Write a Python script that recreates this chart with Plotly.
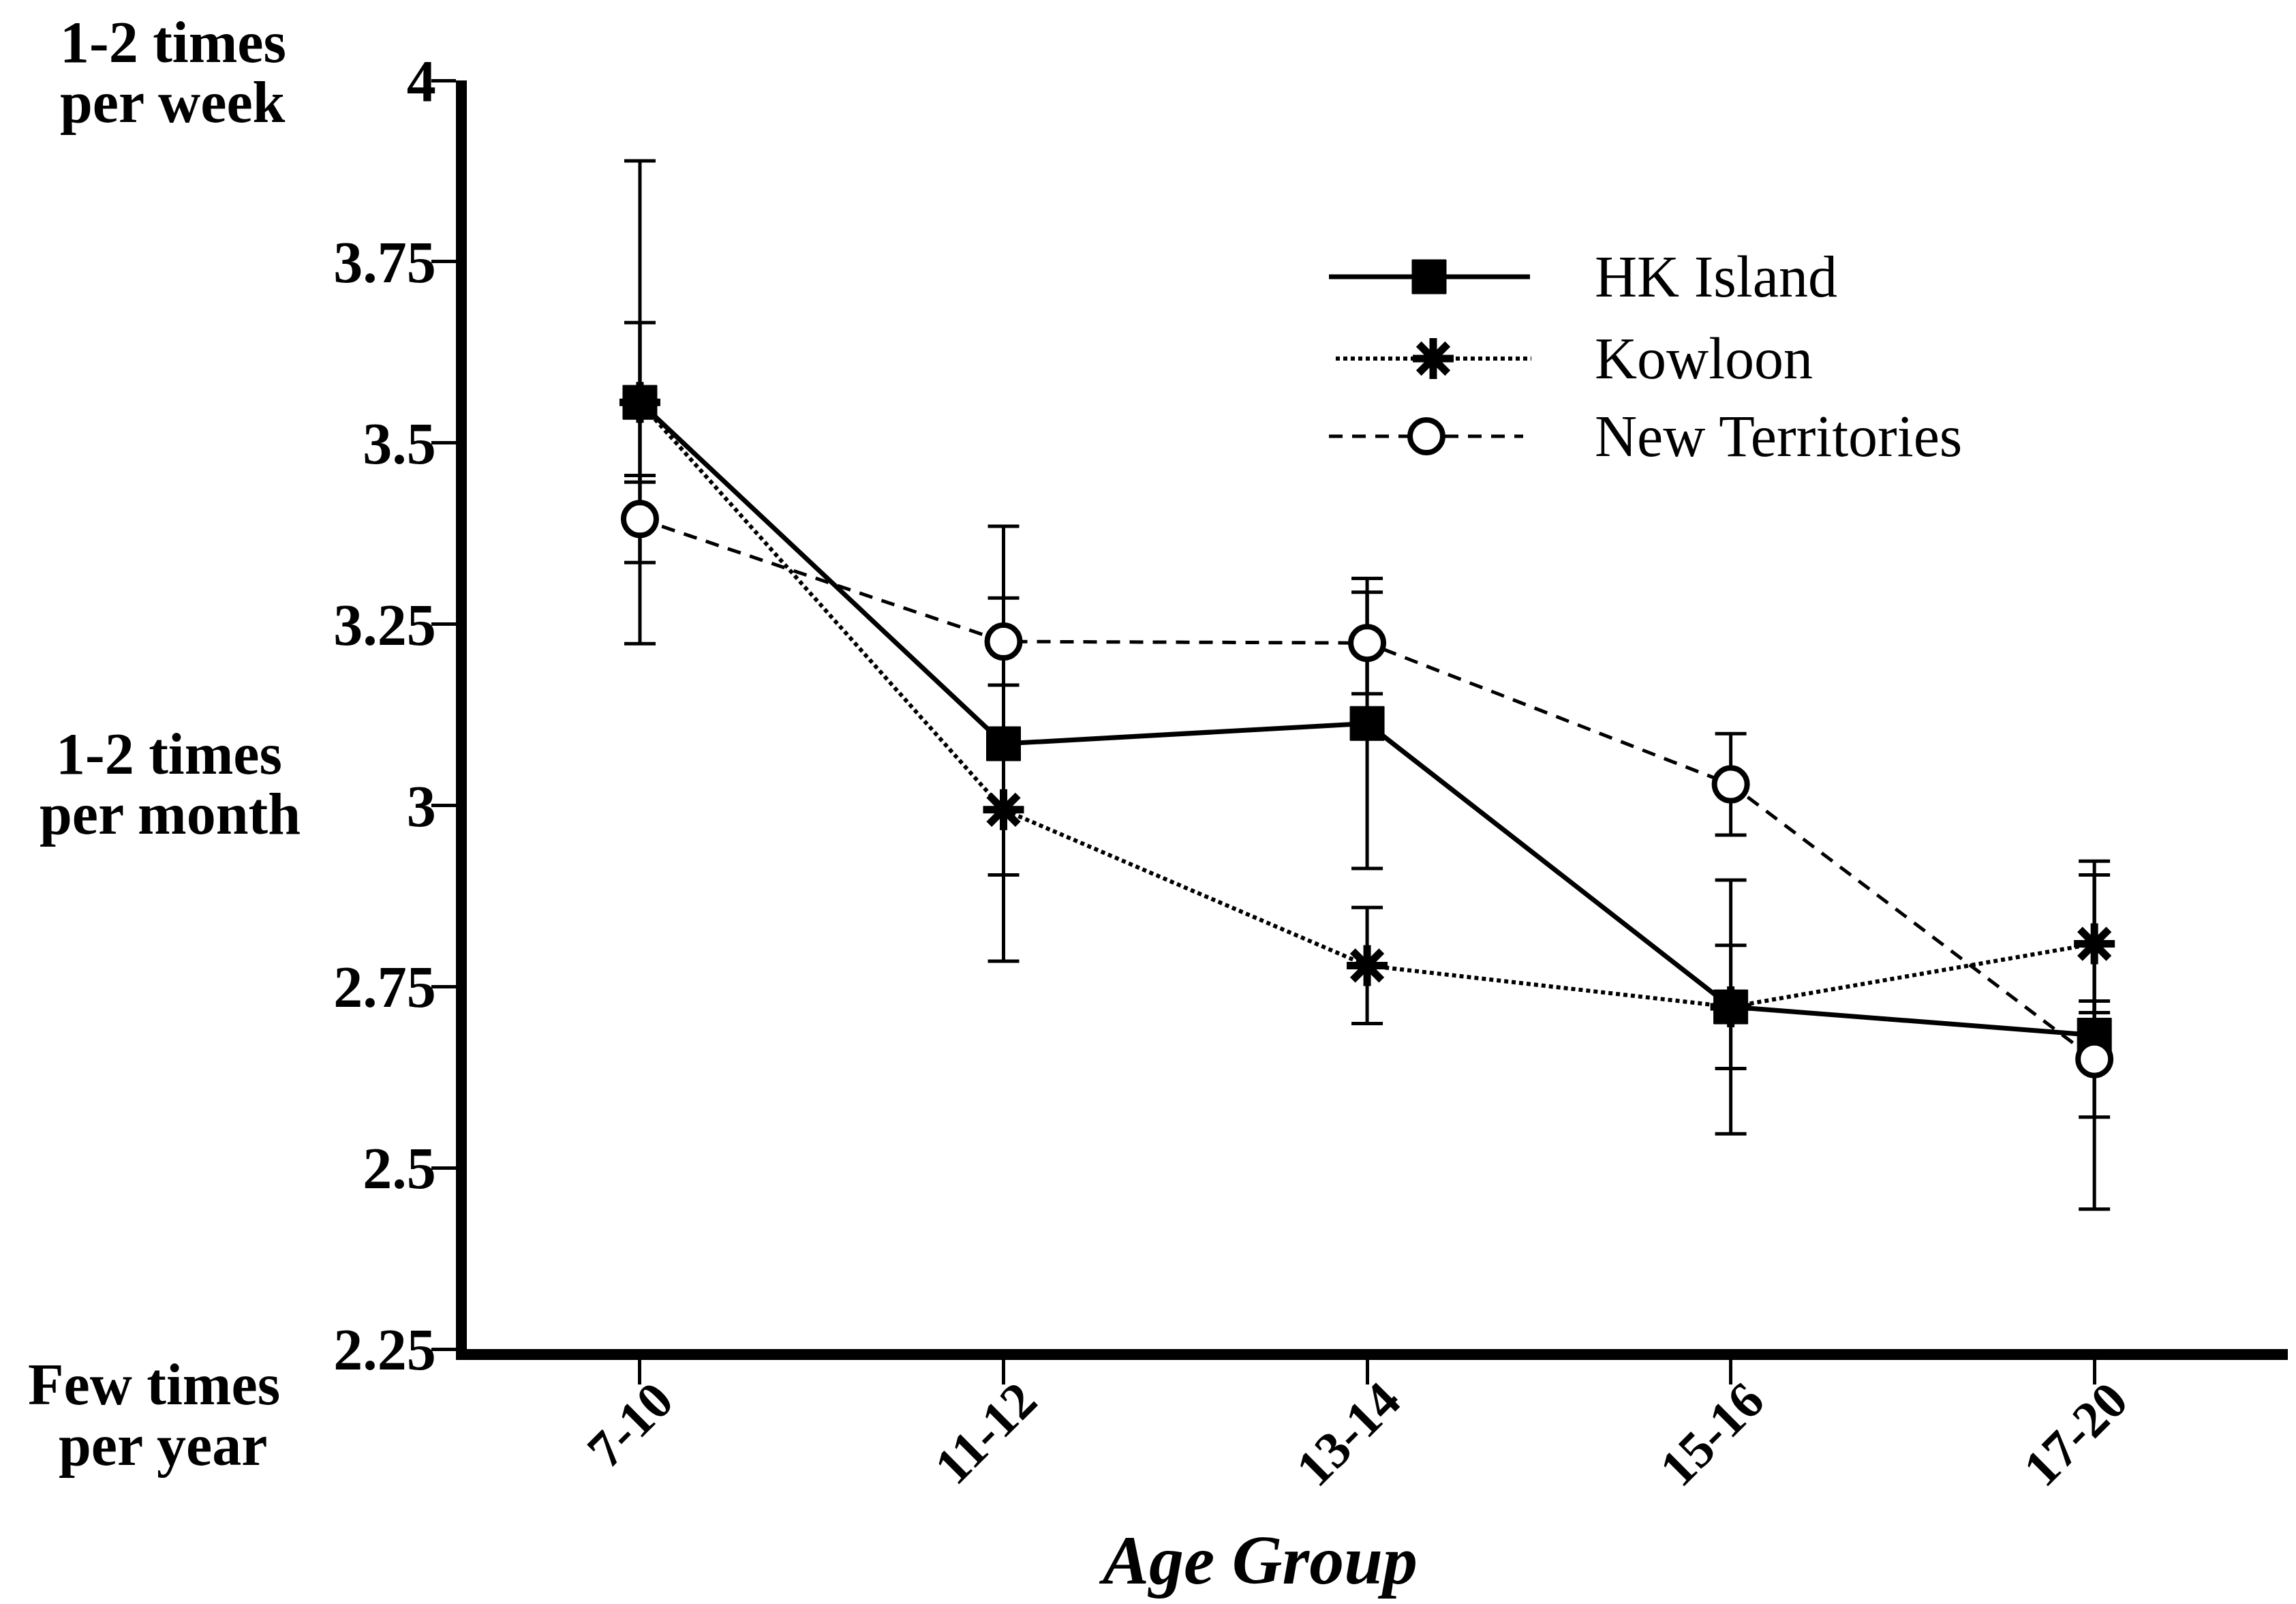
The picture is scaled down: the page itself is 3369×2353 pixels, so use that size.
import plotly.graph_objects as go

# Age groups on the horizontal axis
age_groups = ["7-10", "11-12", "13-14", "15-16", "17-20"]

# Mean frequency score and error (±) per region
hk_island = [3.556, 3.085, 3.113, 2.722, 2.683]
hk_island_err = [0.333, 0.300, 0.200, 0.175, 0.240]

kowloon = [3.556, 2.994, 2.779, 2.722, 2.809]
kowloon_err = [0.110, 0.090, 0.080, 0.085, 0.095]

new_territories = [3.395, 3.226, 3.224, 3.029, 2.650]
new_territories_err = [0.060, 0.060, 0.070, 0.070, 0.080]

y_ticks = [2.25, 2.5, 2.75, 3.0, 3.25, 3.5, 3.75, 4.0]
y_tick_text = ["2.25", "2.5", "2.75", "3", "3.25", "3.5", "3.75", "4"]

FONT = "Liberation Serif"
W, H = 3369, 2353
L, R, T, B = 685, 3357, 118, 1979


def px(x):
    """Horizontal pixel position -> paper fraction."""
    return (x - L) / (R - L)


def py(y):
    """Vertical pixel position (from top) -> paper fraction."""
    return (B - y) / (B - T)


fig = go.Figure()

series = [
    ("HK Island", hk_island, hk_island_err,
     dict(color="black", width=7, dash="solid"),
     dict(symbol="square", size=50, color="black",
          line=dict(color="black", width=1))),
    ("Kowloon", kowloon, kowloon_err,
     dict(color="black", width=6, dash="6px,5px"),
     dict(symbol="asterisk-open", size=50, color="black",
          line=dict(color="black", width=11))),
    ("New Territories", new_territories, new_territories_err,
     dict(color="black", width=5, dash="20px,14px"),
     dict(symbol="circle", size=48, color="white",
          line=dict(color="black", width=8))),
]

for name, vals, errs, line, marker in series:
    fig.add_trace(go.Scatter(
        x=age_groups, y=vals, name=name, mode="lines+markers",
        line=line, marker=marker, showlegend=False,
        error_y=dict(type="data", array=errs, visible=True,
                     color="black", thickness=5, width=23),
        xaxis="x", yaxis="y",
    ))

# Legend keys, drawn on a pixel-mapped overlay axis
legend_rows = [406, 526, 640]
legend_line_x = [(1950, 2245), (1960, 2247), (1950, 2235)]
legend_marker_x = [2097, 2103, 2093]
for (name, vals, errs, line, marker), yrow, (x0, x1), xm in zip(
        series, legend_rows, legend_line_x, legend_marker_x):
    fig.add_trace(go.Scatter(
        x=[x0, x1], y=[yrow, yrow], mode="lines", line=line,
        showlegend=False, hoverinfo="skip", xaxis="x2", yaxis="y2"))
    fig.add_trace(go.Scatter(
        x=[xm], y=[yrow], mode="markers", marker=marker,
        showlegend=False, hoverinfo="skip", xaxis="x2", yaxis="y2"))

annotations = []
for name, yrow in zip([s[0] for s in series], legend_rows):
    annotations.append(dict(
        x=px(2338), y=py(yrow), xref="paper", yref="paper", text=name,
        showarrow=False, xanchor="left", yanchor="middle",
        font=dict(family=FONT, size=86, color="black")))

# Frequency descriptors beside the y axis
side_labels = [
    ("1-2 times", 254, 62), ("per week", 253, 150),
    ("1-2 times", 248, 1106), ("per month", 249, 1194),
    ("Few times", 226, 2031), ("per year", 239, 2120),
]
for text, x, y in side_labels:
    annotations.append(dict(
        x=px(x), y=py(y), xref="paper", yref="paper", text=text,
        showarrow=False, xanchor="center", yanchor="middle",
        font=dict(family=FONT, size=86, color="black", weight="bold")))

annotations.append(dict(
    x=px(1846), y=py(2288), xref="paper", yref="paper", text="Age Group",
    showarrow=False, xanchor="center", yanchor="middle",
    font=dict(family=FONT, size=102, color="black", weight="bold",
              style="italic")))

fig.update_layout(
    width=W, height=H,
    margin=dict(l=L, r=W - R, t=T, b=H - B, pad=0),
    paper_bgcolor="white", plot_bgcolor="white",
    showlegend=False,
    xaxis=dict(
        type="category", range=[-0.476, 4.532],
        showline=True, linecolor="black", linewidth=16,
        ticks="outside", ticklen=36, tickwidth=5, tickcolor="black",
        tickangle=-45, showgrid=False, zeroline=False,
        ticklabelstandoff=-52, ticklabelshift=26,
        tickfont=dict(family=FONT, size=76, color="black", weight="bold"),
    ),
    yaxis=dict(
        range=[2.25, 4.0], tickvals=y_ticks, ticktext=y_tick_text,
        showline=True, linecolor="black", linewidth=16,
        ticks="outside", ticklen=36, tickwidth=5, tickcolor="black",
        showgrid=False, zeroline=False, ticklabelstandoff=-24,
        tickfont=dict(family=FONT, size=86, color="black", weight="bold"),
    ),
    xaxis2=dict(range=[L, R], overlaying="x", visible=False,
                showgrid=False, zeroline=False),
    yaxis2=dict(range=[B, T], overlaying="y", visible=False,
                showgrid=False, zeroline=False),
    annotations=annotations,
)

fig.write_html("out.html")
